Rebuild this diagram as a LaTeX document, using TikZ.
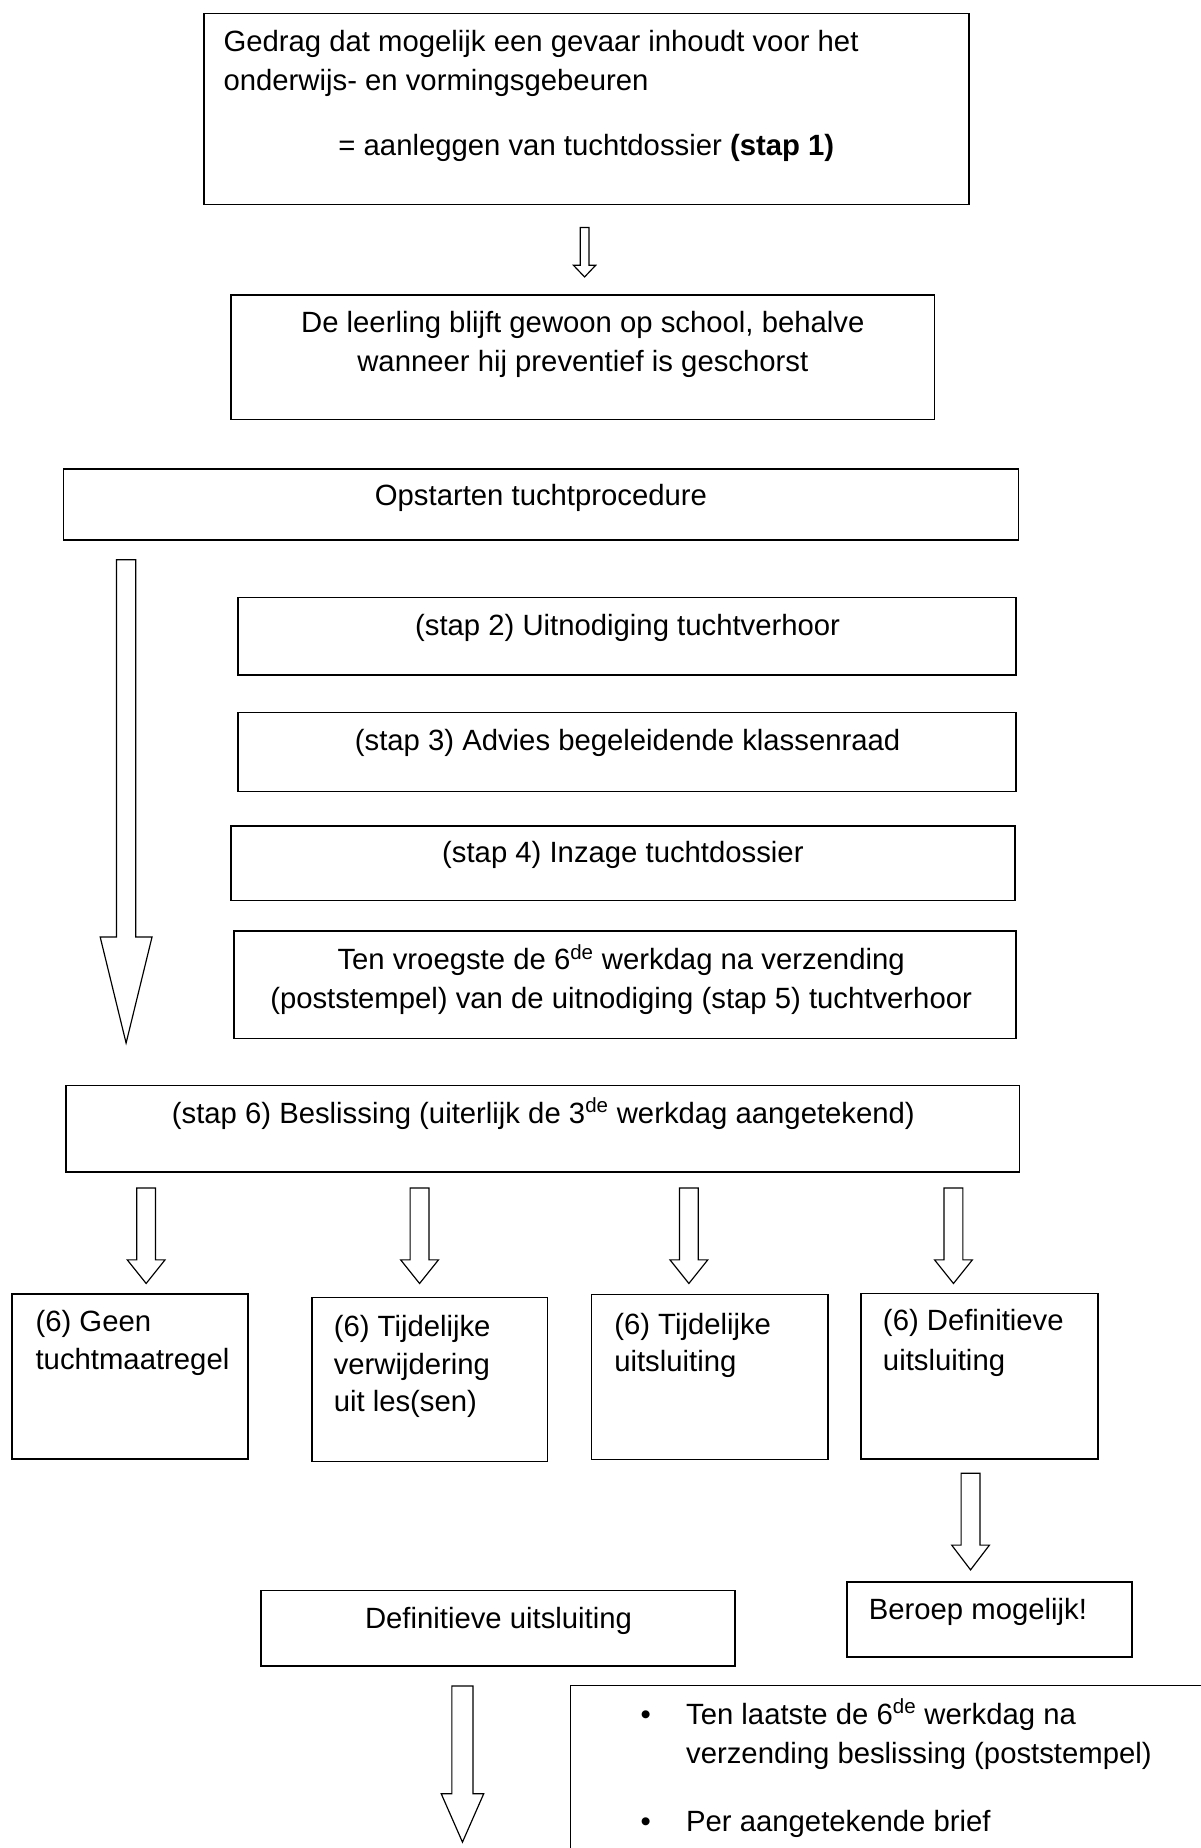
\documentclass[tikz,border=0pt]{standalone}
\usepackage{fontspec}
\setmainfont{Liberation Sans}
\usetikzlibrary{calc}
\tikzset{
  boxst/.style={draw, rectangle, line width=1.3pt, inner sep=0pt, outer sep=0pt, anchor=north west},
  txt/.style={inner sep=0pt, font=\fontsize{24.85}{33}\selectfont},
  ctxt/.style={txt, anchor=base},
  ltxt/.style={txt, anchor=base west},
  blockarrow/.style={draw, line width=1pt, fill=white, line join=miter}
}
\newcommand\barrow[5]{\draw[blockarrow] let \p1=(#1), \p2=(#2) in
  (\x1-#3,\y1) -- (\x1+#3,\y1) -- (\x1+#3,\y2+#5) -- (\x1+#4,\y2+#5) -- (\x1,\y2)
  -- (\x1-#4,\y2+#5) -- (\x1-#3,\y2+#5) -- cycle;}
\begin{document}
\begin{tikzpicture}[x=1pt,y=-1pt]
\useasboundingbox (0,0) rectangle (1019,1568);
% boxes
\node[boxst, minimum width=649pt, minimum height=162pt] (b1) at (173,11.5) {};
\node[boxst, minimum width=597pt, minimum height=105.5pt] (b2) at (196,250.5) {};
\node[boxst, minimum width=810pt, minimum height=60pt] (b3) at (54,398) {};
\node[boxst, minimum width=660pt, minimum height=65.5pt] (b4) at (202,507) {};
\node[boxst, minimum width=660pt, minimum height=67pt] (b5) at (202,604.5) {};
\node[boxst, minimum width=665pt, minimum height=63pt] (b6) at (196,701) {};
\node[boxst, minimum width=663.5pt, minimum height=91pt] (b7) at (198.5,790) {};
\node[boxst, minimum width=809pt, minimum height=73.5pt] (b8) at (56,921) {};
\node[boxst, minimum width=200.5pt, minimum height=140pt] (bA) at (10,1098) {};
\node[boxst, minimum width=200pt, minimum height=139pt] (bB) at (264.5,1101) {};
\node[boxst, minimum width=200.5pt, minimum height=140pt] (bC) at (502,1098.5) {};
\node[boxst, minimum width=201pt, minimum height=140.5pt] (bD) at (730.5,1097.5) {};
\node[boxst, minimum width=242pt, minimum height=63.5pt] (bBer) at (718.5,1342.5) {};
\node[boxst, minimum width=402pt, minimum height=64pt] (bDef) at (221.5,1349.5) {};
\begin{scope}
\clip (0,0) rectangle (1019,1568);
\node[boxst, minimum width=556pt, minimum height=170pt] (bBul) at (484,1430) {};
\end{scope}
% texts
\node[ltxt] (t1a) at (189.5,44) {Gedrag dat mogelijk een gevaar inhoudt voor het};
\node[ltxt] (t1b) at (189.5,77) {onderwijs- en vormingsgebeuren};
\node[ctxt] (t1c) at (497.5,132) {= aanleggen van tuchtdossier \textbf{(stap 1)}};
\node[ctxt] (t2a) at (494.5,282) {De leerling blijft gewoon op school, behalve};
\node[ctxt] (t2b) at (494.5,315) {wanneer hij preventief is geschorst};
\node[ctxt] (t3) at (459,429) {Opstarten tuchtprocedure};
\node[ctxt] (t4) at (532.5,539) {(stap 2) Uitnodiging tuchtverhoor};
\node[ctxt] (t5) at (532.5,637) {(stap 3) Advies begeleidende klassenraad};
\node[ctxt] (t6) at (528.5,732) {(stap 4) Inzage tuchtdossier};
\node[ctxt] (t7a) at (527,823) {Ten vroegste de 6\textsuperscript{de} werkdag na verzending};
\node[ctxt] (t7b) at (527,856) {(poststempel) van de uitnodiging (stap 5) tuchtverhoor};
\node[ctxt] (t8) at (461,953) {(stap 6) Beslissing (uiterlijk de 3\textsuperscript{de} werkdag aangetekend)};
\node[ltxt] (tA1) at (30,1130) {(6) Geen};
\node[ltxt] (tA2) at (30,1162) {tuchtmaatregel};
\node[ltxt] (tB1) at (283,1134) {(6) Tijdelijke};
\node[ltxt] (tB2) at (283,1166) {verwijdering};
\node[ltxt] (tB3) at (283,1198) {uit les(sen)};
\node[ltxt] (tC1) at (521,1132) {(6) Tijdelijke};
\node[ltxt] (tC2) at (521,1164) {uitsluiting};
\node[ltxt] (tD1) at (749,1129) {(6) Definitieve};
\node[ltxt] (tD2) at (749,1163) {uitsluiting};
\node[ltxt] (tBer) at (737,1374) {Beroep mogelijk!};
\node[ctxt] (tDef) at (423,1382) {Definitieve uitsluiting};
\node[ctxt] (bu1) at (548,1463) {•};
\node[ltxt] (tu1a) at (582,1463) {Ten laatste de 6\textsuperscript{de} werkdag na};
\node[ltxt] (tu1b) at (582,1496) {verzending beslissing (poststempel)};
\node[ctxt] (bu2) at (548,1554) {•};
\node[ltxt] (tu2) at (582,1554) {Per aangetekende brief};
% arrow end points
\coordinate (a1s) at (496,193);   \coordinate (a1e) at (496,235);
\coordinate (a2s) at (107,475);   \coordinate (a2e) at (107,885);
\coordinate (aAs) at (124,1008);  \coordinate (aAe) at (124,1089);
\coordinate (aBs) at (356,1008);  \coordinate (aBe) at (356,1089);
\coordinate (aCs) at (584.5,1008);\coordinate (aCe) at (584.5,1089);
\coordinate (aDs) at (809,1008);  \coordinate (aDe) at (809,1089);
\coordinate (aEs) at (823.5,1250);\coordinate (aEe) at (823.5,1332);
\coordinate (aFs) at (392.4,1430.5);\coordinate (aFe) at (392.4,1563);
\barrow{a1s}{a1e}{3.7pt}{9.5pt}{10pt}
\barrow{a2s}{a2e}{8.2pt}{22pt}{90pt}
\barrow{aAs}{aAe}{8pt}{16pt}{20pt}
\barrow{aBs}{aBe}{8pt}{16pt}{20pt}
\barrow{aCs}{aCe}{8pt}{16pt}{20pt}
\barrow{aDs}{aDe}{8pt}{16pt}{20pt}
\barrow{aEs}{aEe}{8pt}{16pt}{21pt}
\barrow{aFs}{aFe}{9pt}{18pt}{41pt}
\end{tikzpicture}
\end{document}
